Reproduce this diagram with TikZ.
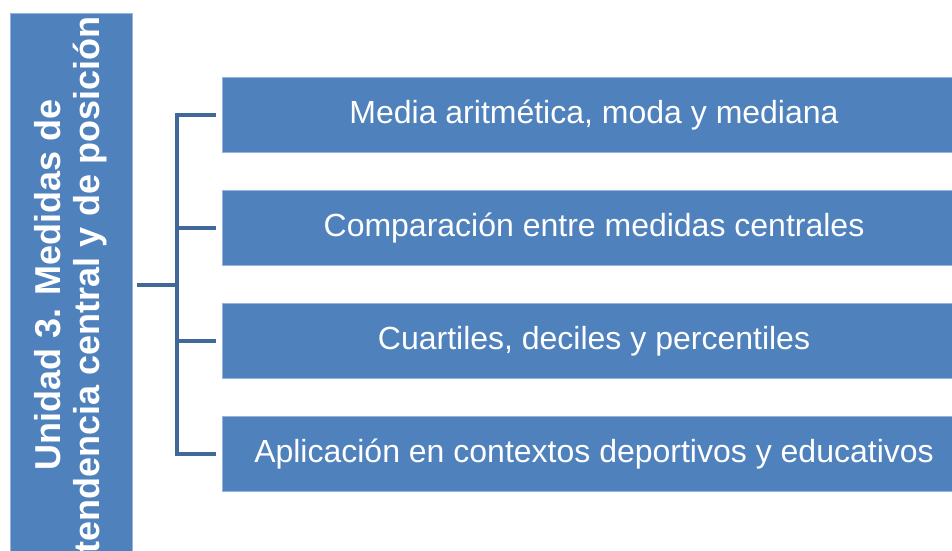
\documentclass[tikz,border=0pt]{standalone}
\usepackage{fontspec}
\setmainfont{Liberation Sans}
\definecolor{boxblue}{RGB}{79,129,189}
\definecolor{linkblue}{RGB}{64,104,152}
\definecolor{edgeblue}{RGB}{150,180,220}
\tikzset{
  unitbox/.style={rectangle, fill=boxblue, draw=edgeblue, line width=0.8pt,
    text=white, minimum width=544pt, minimum height=122pt, inner sep=0pt,
    align=center, font=\fontsize{36}{39}\selectfont\bfseries},
  topicbox/.style={rectangle, fill=boxblue, draw=edgeblue, line width=0.8pt,
    text=white, minimum width=744pt, minimum height=75pt, inner sep=0pt,
    text height=23pt, text depth=6pt, font=\fontsize{32}{36}\selectfont},
  bracket/.style={draw=linkblue, line width=4pt}
}
\begin{document}
\begin{tikzpicture}[x=1pt,y=-1pt]
      \useasboundingbox (0,0) rectangle (952,550);
      \draw
        (71,285) node[unitbox, rotate=90] (unidad){Unidad 3. Medidas de\\tendencia central y de posición}
        (594,114.5) node[topicbox] (t1){Media aritmética, moda y mediana}
        (594,227.5) node[topicbox] (t2){Comparación entre medidas centrales}
        (594,340.5) node[topicbox] (t3){Cuartiles, deciles y percentiles}
        (594,453.5) node[topicbox] (t4){Aplicación en contextos deportivos y educativos};
      \coordinate (spine) at (177,285);
      \begin{scope}[bracket]
        \draw ([xshift=5pt]unidad.south) to (spine);
        \draw ([xshift=-6pt]t1.west) -| (spine |- t4.west) to ([xshift=-6pt]t4.west);
        \draw (spine |- t2.west) to ([xshift=-6pt]t2.west);
        \draw (spine |- t3.west) to ([xshift=-6pt]t3.west);
      \end{scope}
    \end{tikzpicture}
\end{document}
